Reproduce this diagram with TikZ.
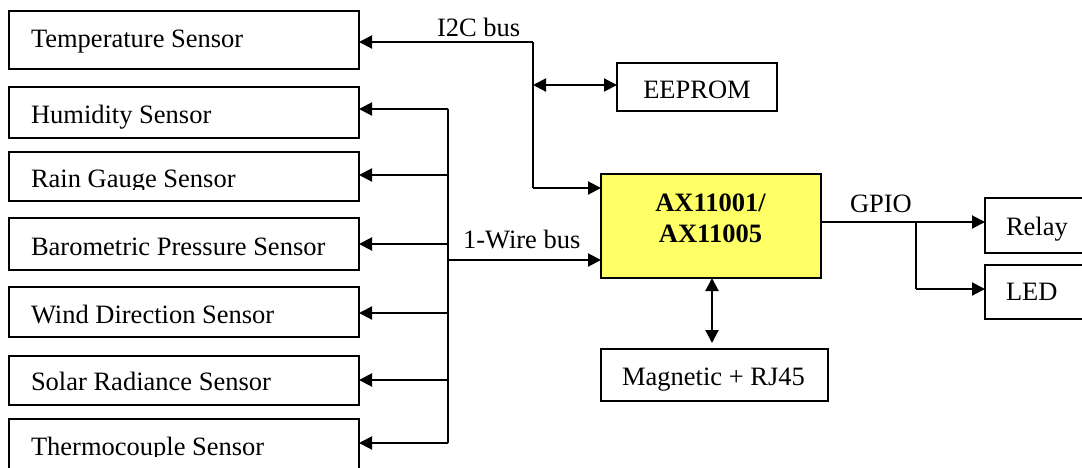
\documentclass[tikz,border=0pt]{standalone}
\usepackage{fontspec}
\setmainfont{Liberation Serif}
\usetikzlibrary{arrows.meta}
\definecolor{chipyellow}{RGB}{255,255,102}
\tikzset{
  box/.style={draw=black, line width=2pt, inner sep=0pt, outer sep=0pt, fill=white},
  lbl/.style={inner sep=0pt, outer sep=0pt, font=\fontsize{26.5}{30}\selectfont},
  blbl/.style={lbl, font=\fontsize{26.5}{30}\selectfont\bfseries},
  wire/.style={line width=2pt},
  arr/.style={wire, -{Triangle[length=13pt,width=13pt]}},
  darr/.style={wire, {Triangle[length=13pt,width=13pt]}-{Triangle[length=13pt,width=13pt]}}
}
\begin{document}
\begin{tikzpicture}[x=1pt,y=-1pt]
\useasboundingbox (0,0) rectangle (1082,467);
\clip (0,0) rectangle (1082,467);

% left sensor boxes
\node[box, minimum width=350pt, minimum height=58pt] (temp)  at (184,40) {};
\node[box, minimum width=350pt, minimum height=51pt] (hum)   at (184,112.5) {};
\node[box, minimum width=350pt, minimum height=49pt] (rain)  at (184,176.5) {};
\node[box, minimum width=350pt, minimum height=52pt] (baro)  at (184,244) {};
\node[box, minimum width=350pt, minimum height=50pt] (wind)  at (184,312) {};
\node[box, minimum width=350pt, minimum height=49pt] (solar) at (184,380.5) {};
\node[box, minimum width=350pt, minimum height=56pt] (thermo) at (184,447) {};

\node[lbl, anchor=base west] (ttemp) at (31,47) {Temperature Sensor};
\node[lbl, anchor=base west] (thum) at (31,123) {Humidity Sensor};
\begin{scope}
  \clip (0,140) rectangle (400,189);
  \node[lbl, anchor=base west] (train) at (31,187) {Rain Gauge Sensor};
\end{scope}
\node[lbl, anchor=base west] (tbaro) at (31,255) {Barometric Pressure Sensor};
\node[lbl, anchor=base west] (twind) at (31,323) {Wind Direction Sensor};
\node[lbl, anchor=base west] (tsolar) at (31,390) {Solar Radiance Sensor};
\begin{scope}
  \clip (0,400) rectangle (400,456);
  \node[lbl, anchor=base west] (tthermo) at (31,455) {Thermocouple Sensor};
\end{scope}

% other boxes
\node[box, minimum width=160pt, minimum height=48pt] (eeprom) at (697,87) {};
\node[lbl, anchor=base] (teeprom) at (697,98) {EEPROM};

\node[box, fill=chipyellow, minimum width=220pt, minimum height=104pt] (chip) at (711,226) {};
\node[blbl, anchor=base] (tchip1) at (710.5,211) {AX11001/};
\node[blbl, anchor=base] (tchip2) at (710.5,242) {AX11005};

\node[box, minimum width=227pt, minimum height=52pt] (mag) at (714.5,375) {};
\node[lbl, anchor=base] (tmag) at (713.5,385) {Magnetic + RJ45};

\node[box, minimum width=110pt, minimum height=55pt] (relay) at (1040,225.5) {};
\node[lbl, anchor=base west] (trelay) at (1006,235) {Relay};
\node[box, minimum width=110pt, minimum height=54pt] (led) at (1040,292) {};
\node[lbl, anchor=base west] (tled) at (1006,300) {LED};

% bus labels
\node[lbl, anchor=base west] (i2clbl) at (437,36) {I2C bus};
\node[lbl, anchor=base west] (owlbl) at (463,248) {1-Wire bus};
\node[lbl, anchor=base west] (gpiolbl) at (850,212) {GPIO};

% I2C bus
\coordinate (i2ctop) at (533,42);
\coordinate (i2cmid) at (533,85);
\coordinate (i2cbot) at (533,188);
\draw[wire] (i2ctop) -- (i2cbot);
\draw[arr] (i2ctop) -- (temp.east |- i2ctop);
\draw[darr] (i2cmid) -- (eeprom.west |- i2cmid);
\draw[arr] (i2cbot) -- (chip.west |- i2cbot);

% 1-Wire bus
\coordinate (owtop) at (448,109);
\coordinate (owbot) at (448,443);
\coordinate (owchip) at (448,260);
\coordinate (owrain) at (447,175);
\coordinate (owbaro) at (448,244);
\coordinate (owwind) at (448,313);
\coordinate (owsolar) at (448,380);
\draw[wire] (owtop) -- (owbot);
\draw[arr] (owtop) -- (hum.east |- owtop);
\draw[arr] (owrain) -- (rain.east |- owrain);
\draw[arr] (owbaro) -- (baro.east |- owbaro);
\draw[arr] (owwind) -- (wind.east |- owwind);
\draw[arr] (owsolar) -- (solar.east |- owsolar);
\draw[arr] (owbot) -- (thermo.east |- owbot);
\draw[arr] (owchip) -- (chip.west |- owchip);

% chip to magnetic
\coordinate (chipbot) at (712,278);
\draw[darr, shorten >=6pt] (chipbot) -- (mag.north -| chipbot);

% GPIO
\coordinate (gpioout) at (821,222);
\coordinate (gpiobr) at (916,222);
\coordinate (gpioled) at (916,289);
\draw[arr] (gpioout) -- (relay.west |- gpioout);
\draw[wire] (gpiobr) -- (gpioled);
\draw[arr] (gpioled) -- (led.west |- gpioled);
\end{tikzpicture}
\end{document}
